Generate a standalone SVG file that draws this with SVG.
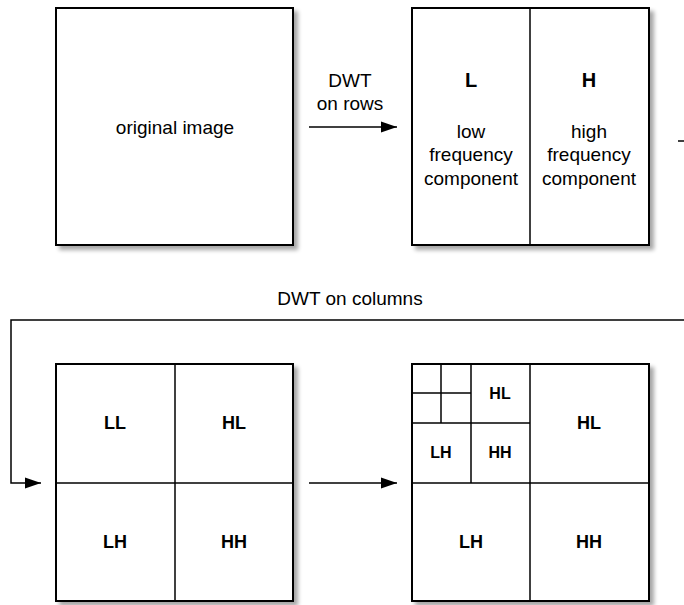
<svg xmlns="http://www.w3.org/2000/svg" width="684" height="605" viewBox="0 0 684 605">
<defs>
<filter id="sh" x="-10%" y="-10%" width="130%" height="130%">
<feGaussianBlur in="SourceAlpha" stdDeviation="2"/>
<feOffset dx="4" dy="4" result="b"/>
<feComponentTransfer><feFuncA type="linear" slope="0.35"/></feComponentTransfer>
<feMerge><feMergeNode/><feMergeNode in="SourceGraphic"/></feMerge>
</filter>
<marker id="ah" markerWidth="16" markerHeight="12" refX="16" refY="6" orient="auto" markerUnits="userSpaceOnUse">
<path d="M0,0.5 L16,6 L0,11.5 Z" fill="#000"/>
</marker>
</defs>
<style>
.box{fill:#fff;stroke:#000;stroke-width:2}
.ln{stroke:#000;stroke-width:1.5;fill:none}
.t{font-family:"Liberation Sans",Arial,sans-serif;font-size:19px;text-anchor:middle;fill:#000}
.b{font-weight:bold;font-size:18px}
.lg{font-size:20px}
.s{font-size:16px}
.c{stroke:#000;stroke-width:1.5;fill:none}
</style>
<rect width="684" height="605" fill="#fff"/>

<g id="original">
<rect class="box" x="56" y="8" width="237" height="237" filter="url(#sh)"/>
<text class="t" x="175" y="134">original image</text>
</g>

<g id="rows">
<rect class="box" x="412" y="8" width="237" height="237" filter="url(#sh)"/>
<line class="ln" x1="530" y1="8" x2="530" y2="245"/>
<text class="t b lg" x="471" y="87">L</text>
<text class="t" x="471" y="138">low</text>
<text class="t" x="471" y="161">frequency</text>
<text class="t" x="471" y="185">component</text>
<text class="t b lg" x="589" y="87">H</text>
<text class="t" x="589" y="138">high</text>
<text class="t" x="589" y="161">frequency</text>
<text class="t" x="589" y="185">component</text>
</g>

<g id="level1">
<rect class="box" x="56" y="364" width="237" height="237" filter="url(#sh)"/>
<line class="ln" x1="175" y1="364" x2="175" y2="601"/>
<line class="ln" x1="56" y1="483" x2="293" y2="483"/>
<text class="t b" x="115" y="429">LL</text>
<text class="t b" x="234" y="429">HL</text>
<text class="t b" x="115" y="548">LH</text>
<text class="t b" x="234" y="548">HH</text>
</g>

<g id="level2">
<rect class="box" x="412" y="364" width="237" height="237" filter="url(#sh)"/>
<line class="ln" x1="530" y1="364" x2="530" y2="601"/>
<line class="ln" x1="412" y1="483" x2="649" y2="483"/>
<line class="ln" x1="471" y1="364" x2="471" y2="483"/>
<line class="ln" x1="412" y1="423" x2="530" y2="423"/>
<line class="ln" x1="441" y1="364" x2="441" y2="423"/>
<line class="ln" x1="412" y1="393" x2="471" y2="393"/>
<text class="t b s" x="500" y="399">HL</text>
<text class="t b s" x="441" y="458">LH</text>
<text class="t b s" x="500" y="458">HH</text>
<text class="t b" x="589" y="429">HL</text>
<text class="t b" x="471" y="548">LH</text>
<text class="t b" x="589" y="548">HH</text>
</g>

<g id="connectors">
<line class="c" x1="309" y1="127" x2="397" y2="127" marker-end="url(#ah)"/>
<text class="t" x="350" y="87">DWT</text>
<text class="t" x="350" y="110">on rows</text>
<line class="c" x1="678" y1="141" x2="684" y2="141"/>
<polyline class="c" points="684,320 11,320 11,483 41,483" marker-end="url(#ah)"/>
<text class="t" x="350" y="305">DWT on columns</text>
<line class="c" x1="309" y1="483" x2="397" y2="483" marker-end="url(#ah)"/>
</g>
</svg>
